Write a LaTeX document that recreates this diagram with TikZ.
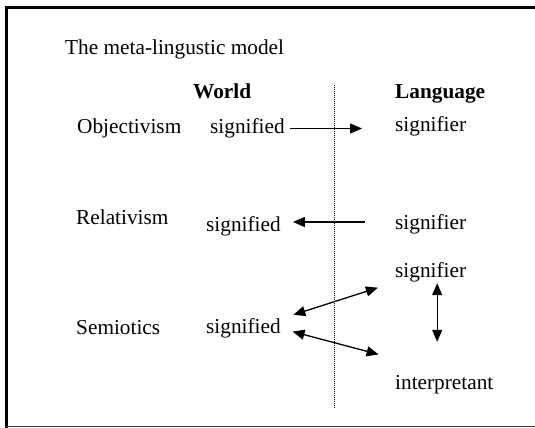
\documentclass[tikz,border=0pt]{standalone}
\usepackage{fontspec}
\setmainfont{Liberation Serif}
\usetikzlibrary{arrows.meta}

\begin{document}
\begin{tikzpicture}[
    x=1pt, y=-1pt,
    word/.style={inner sep=0pt, anchor=base west, text height=14pt, text depth=5pt,
                 font=\fontsize{21.3}{25}\selectfont},
    head/.style={word, font=\fontsize{21.3}{25}\selectfont\bfseries},
    onearrow/.style={line width=1.3pt, -{Triangle[length=12pt,width=10pt]}},
    twoarrow/.style={line width=1.3pt, {Triangle[length=12pt,width=10pt]}-{Triangle[length=12pt,width=10pt]}},
    divider/.style={line width=0.7pt, dash pattern=on 1pt off 1pt}
]
\useasboundingbox (0,0) rectangle (535,428);

% =========================================================
% frame (open on the right)
% =========================================================
\draw[line width=3pt] (5,8) -- (535,8);
\draw[line width=3pt] (6.5,6.5) -- (6.5,427.5);
\draw[line width=1.6pt, black!75] (5,426.6) -- (535,426.6);

% title and column heads
\node[word] (title) at (65,55) {The meta-lingustic model};
\node[head] (world) at (193,98) {World};
\node[head] (lang)  at (395,98) {Language};

% dotted line between world and language
\draw[divider] (334,85) -- (334,408);

% =========================================================
% Objectivism
% =========================================================
\node[word] (obj) at (77,133)  {Objectivism};
\node[word] (sd1) at (210,133) {signified};
\node[word] (sr1) at (395,131) {signifier};
\draw[onearrow, shorten <=5pt, shorten >=33pt] (sd1.east) -- (sd1.east -| sr1.west);

% =========================================================
% Relativism
% =========================================================
\node[word] (rel) at (76,224)  {Relativism};
\node[word] (sd2) at (206,231) {signified};
\node[word] (sr2) at (395,229) {signifier};
\draw[onearrow, shorten <=30pt, shorten >=12pt]
     ([yshift=2.5pt]sr2.west) -- ([yshift=4.5pt]sd2.east);

% =========================================================
% Semiotics
% =========================================================
\node[word] (sem) at (76,334)  {Semiotics};
\node[word] (sd3) at (206,333) {signified};
\node[word] (sr3) at (395,277) {signifier};
\node[word] (ip)  at (395,389) {interpretant};

\draw[twoarrow, shorten <=13pt, shorten >=18pt] (sd3.north east) -- (sr3.south west);
\draw[twoarrow, shorten <=12pt, shorten >=17pt] (sd3.east) -- ([yshift=16pt]ip.north west);
\draw[twoarrow, shorten <=1pt, shorten >=33pt]
     ([xshift=6.5pt]sr3.south) -- ([xshift=6.5pt]sr3.south |- ip.north);

\end{tikzpicture}
\end{document}
